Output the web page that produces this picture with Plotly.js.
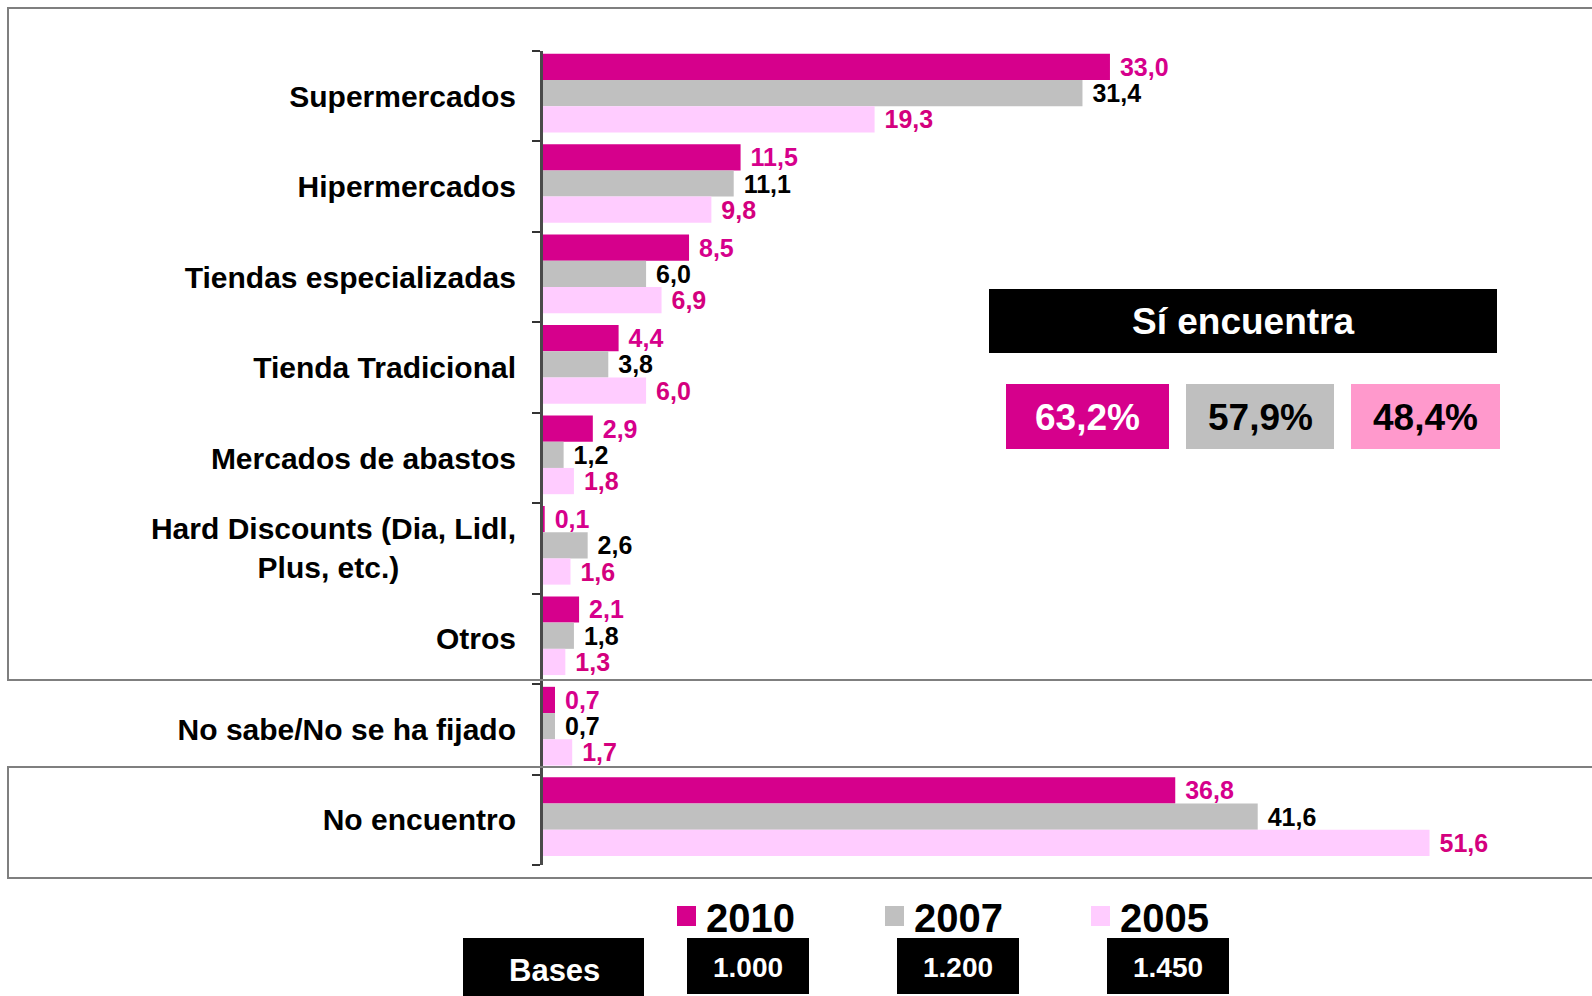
<!DOCTYPE html>
<html>
<head>
<meta charset="utf-8">
<script src="https://cdn.plot.ly/plotly-3.0.1.min.js"></script>
<style>html,body{margin:0;padding:0;background:#fff;}#chart{width:1592px;height:996px;}</style>
</head>
<body>
<div id="chart"></div>
<script>
const categories = ["Supermercados","Hipermercados","Tiendas especializadas","Tienda Tradicional","Mercados de abastos","Hard Discounts (Dia, Lidl, Plus, etc.)","Otros","No sabe/No se ha fijado","No encuentro"];
const tickLabels = ["Supermercados","Hipermercados","Tiendas especializadas","Tienda Tradicional","Mercados de abastos","Hard Discounts (Dia, Lidl,<br>Plus, etc.)\u00A0\u00A0\u00A0\u00A0\u00A0\u00A0\u00A0\u00A0\u00A0\u00A0\u00A0\u00A0\u00A0\u00A0","Otros","No sabe/No se ha fijado","No encuentro"];
const years = ["2010","2007","2005"];
const v2010 = [33.0,11.5,8.5,4.4,2.9,0.1,2.1,0.7,36.8];
const v2007 = [31.4,11.1,6.0,3.8,1.2,2.6,1.8,0.7,41.6];
const v2005 = [19.3,9.8,6.9,6.0,1.8,1.6,1.3,1.7,51.6];
const siEncuentra = [63.2,57.9,48.4];
const bases = [1000,1200,1450];

const FONT = "Arial, 'Liberation Sans', sans-serif";
const W = 1592, H = 996;
const px = x => x / W;
const py = y => 1 - y / H;

const barColors = ["#D6008C","#C0C0C0","#FFCCFF"];
const labelColors = ["#D6008C","#000000","#D4007E"];
const series = [v2010, v2007, v2005];
const offsets = [-0.47, -0.18, 0.11];

const traces = series.map((vals, i) => ({
  type: "bar",
  orientation: "h",
  name: years[i],
  y: categories,
  x: vals,
  width: 0.29,
  offset: offsets[i],
  marker: {color: barColors[i]},
  texttemplate: "\u00A0%{x:.1f}",
  textposition: "outside",
  constraintext: "none",
  cliponaxis: false,
  textfont: {family: FONT, size: 25, color: labelColors[i], weight: "bold"},
  hoverinfo: "x+y",
  showlegend: false
}));

const fmtBase = n => String(n).replace(/\B(?=(\d{3})+(?!\d))/g, ".");
const fmtPct = n => n.toFixed(1).replace(".", ",") + "%";

const shapes = [
  {type:"rect", xref:"paper", yref:"paper", x0:px(8), x1:px(1640), y0:py(680), y1:py(8), line:{color:"#7f7f7f", width:2}, fillcolor:"rgba(0,0,0,0)"},
  {type:"rect", xref:"paper", yref:"paper", x0:px(8), x1:px(1640), y0:py(878), y1:py(767), line:{color:"#7f7f7f", width:2}, fillcolor:"rgba(0,0,0,0)"},
  {type:"rect", xref:"paper", yref:"paper", x0:px(989), x1:px(1497), y0:py(353), y1:py(289), line:{width:0}, fillcolor:"#000"}
];
const annotations = [
  {xref:"paper", yref:"paper", x:px(1243), y:py(321), text:"Sí encuentra", showarrow:false, xanchor:"center", yanchor:"middle", font:{family:FONT, size:37, color:"#fff", weight:"bold"}}
];
const pctBoxes = [[1006,1169],[1186,1334],[1351,1500]];
const pctFill = ["#D6008C","#BFBFBF","#FF99CC"];
const pctText = ["#ffffff","#000000","#000000"];
siEncuentra.forEach((v, i) => {
  const [a, b] = pctBoxes[i];
  shapes.push({type:"rect", xref:"paper", yref:"paper", x0:px(a), x1:px(b), y0:py(449), y1:py(384), line:{width:0}, fillcolor:pctFill[i]});
  annotations.push({xref:"paper", yref:"paper", x:px((a+b)/2), y:py(417), text:fmtPct(v), showarrow:false, xanchor:"center", yanchor:"middle", font:{family:FONT, size:37, color:pctText[i], weight:"bold"}});
});

// legend (squares + year labels)
const legendSq = [677, 885, 1091];
years.forEach((yr, i) => {
  const x0 = legendSq[i];
  shapes.push({type:"rect", xref:"paper", yref:"paper", x0:px(x0), x1:px(x0+19), y0:py(926), y1:py(906), line:{width:0}, fillcolor:barColors[i]});
  annotations.push({xref:"paper", yref:"paper", x:px(x0+27), y:py(918), text:yr, showarrow:false, xanchor:"left", yanchor:"middle", font:{family:FONT, size:40, color:"#000", weight:"bold"}});
});

shapes.push({type:"rect", xref:"paper", yref:"paper", x0:px(463), x1:px(644), y0:py(998), y1:py(938), line:{width:0}, fillcolor:"#000"});
annotations.push({xref:"paper", yref:"paper", x:px(554), y:py(970), text:"Bases", showarrow:false, xanchor:"center", yanchor:"middle", font:{family:FONT, size:31, color:"#fff", weight:"bold"}});
const baseBoxes = [[687,809],[897,1019],[1107,1229]];
bases.forEach((v, i) => {
  const [a, b] = baseBoxes[i];
  shapes.push({type:"rect", xref:"paper", yref:"paper", x0:px(a), x1:px(b), y0:py(994), y1:py(938), line:{width:0}, fillcolor:"#000"});
  annotations.push({xref:"paper", yref:"paper", x:px((a+b)/2), y:py(967), text:fmtBase(v), showarrow:false, xanchor:"center", yanchor:"middle", font:{family:FONT, size:28, color:"#fff", weight:"bold"}});
});

const layout = {
  width: W, height: H,
  margin: {l:0, r:0, t:0, b:0},
  paper_bgcolor: "#fff", plot_bgcolor: "rgba(0,0,0,0)",
  separators: ",.",
  barmode: "group",
  showlegend: false,
  font: {family: FONT, color: "#000"},
  xaxis: {domain:[px(543), px(1568)], range:[0, 59.66], showgrid:false, zeroline:false, showticklabels:false, ticks:"", showline:false},
  yaxis: {
    domain:[py(865), py(51)],
    type:"category", categoryorder:"array", categoryarray: categories,
    tickvals: categories, ticktext: tickLabels,
    autorange:"reversed",
    tickson:"boundaries", ticks:"outside", ticklen:8, tickwidth:2, tickcolor:"#333",
    showline:true, linecolor:"#4a4a4a", linewidth:3,
    showgrid:false, zeroline:false,
    ticklabelstandoff: 18,
    tickfont:{family:FONT, size:30, color:"#000", weight:"bold"}
  },
  shapes: shapes,
  annotations: annotations
};

Plotly.newPlot("chart", traces, layout, {displayModeBar:false, staticPlot:true});
</script>
</body>
</html>
